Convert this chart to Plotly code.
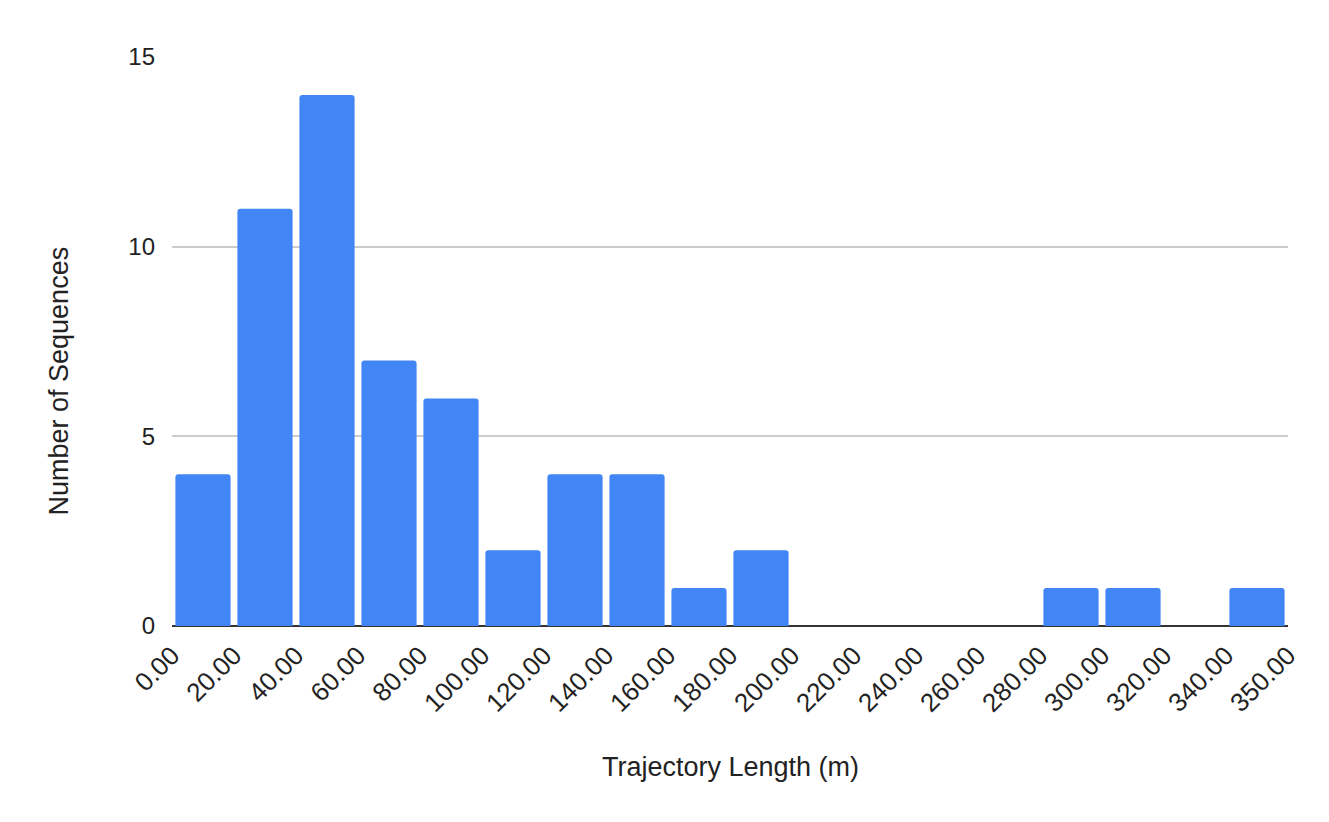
import plotly.graph_objects as go

edge_labels = ["0.00", "20.00", "40.00", "60.00", "80.00", "100.00", "120.00",
               "140.00", "160.00", "180.00", "200.00", "220.00", "240.00",
               "260.00", "280.00", "300.00", "320.00", "340.00", "350.00"]
counts = [4, 11, 14, 7, 6, 2, 4, 4, 1, 2, 0, 0, 0, 0, 1, 1, 0, 1]
y_ticks = [0, 5, 10, 15]
x_title = "Trajectory Length (m)"
y_title = "Number of Sequences"

bin_index = list(range(len(counts)))
centers = [i + 0.5 for i in bin_index]

fig = go.Figure(go.Bar(
    x=centers, y=counts, width=0.89,
    marker=dict(color="#4285F4", line=dict(width=0), cornerradius=3),
    hoverinfo="y",
))

font = "Liberation Sans, Arial, sans-serif"
ink = "#222222"
fig.update_layout(
    width=1321, height=814,
    margin=dict(l=164, r=41, t=49, b=196),
    paper_bgcolor="white", plot_bgcolor="white",
    font=dict(family=font, color=ink, size=24),
    showlegend=False,
    xaxis=dict(
        range=[0, len(counts)],
        tickmode="array",
        tickvals=list(range(len(edge_labels))),
        ticktext=edge_labels,
        tickangle=-45,
        tickfont=dict(size=26, color=ink),
        showgrid=False, zeroline=False,
        showline=False,
        ticks="", ticklabelstandoff=8,
    ),
    yaxis=dict(
        range=[0, 15],
        tickvals=y_ticks,
        tickfont=dict(size=24, color=ink),
        showgrid=True, gridcolor="#cccccc", gridwidth=1.5,
        zeroline=True, zerolinecolor="#333333", zerolinewidth=2,
        showline=False, ticks="", ticklabelstandoff=16,
    ),
    annotations=[
        dict(text=x_title, xref="paper", yref="paper", x=0.5, y=0,
             xanchor="center", yanchor="middle", yshift=-141, showarrow=False,
             font=dict(size=27, color=ink)),
        dict(text=y_title, xref="paper", yref="paper", x=0, y=0.5,
             xanchor="center", yanchor="middle", xshift=-114, yshift=-40,
             textangle=-90, showarrow=False, font=dict(size=27, color=ink)),
    ],
)

fig.write_html("out.html")
